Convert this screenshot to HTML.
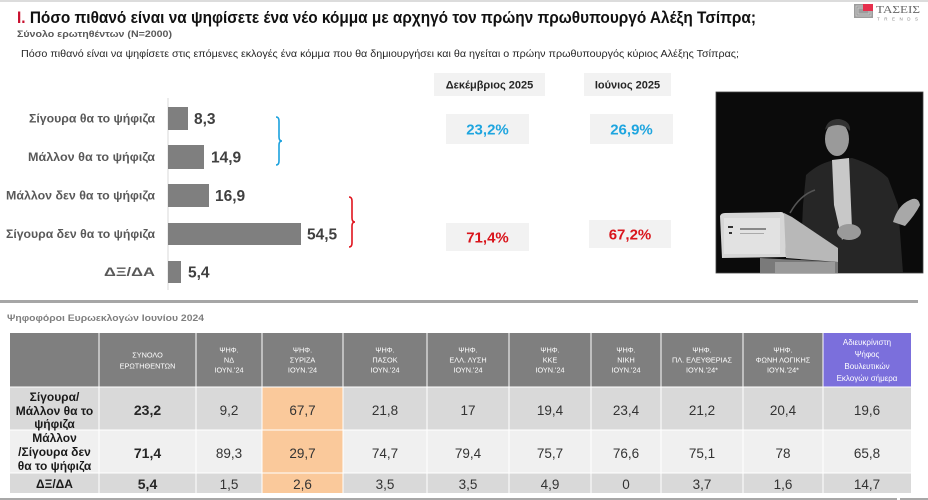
<!DOCTYPE html>
<html><head><meta charset="utf-8"><style>
html,body{margin:0;padding:0;background:#fff;}
svg{display:block;}
text{font-family:"Liberation Sans","Noto Sans CJK SC",sans-serif;}
</style></head><body>
<svg width="928" height="500" viewBox="0 0 928 500" xmlns="http://www.w3.org/2000/svg">
<rect x="0" y="0" width="928" height="500" fill="#fff"/>
<rect x="0" y="0" width="928" height="2" fill="#dcdcdc"/>

<!-- Title -->
<text x="17" y="23" font-size="16.5" font-weight="bold" fill="#111" textLength="739" lengthAdjust="spacingAndGlyphs"><tspan fill="#c8102e">I.</tspan> Πόσο πιθανό είναι να ψηφίσετε ένα νέο κόμμα με αρχηγό τον πρώην πρωθυπουργό Αλέξη Τσίπρα;</text>
<text x="17" y="37" font-size="9.5" font-weight="bold" fill="#595959" textLength="155" lengthAdjust="spacingAndGlyphs">Σύνολο ερωτηθέντων (N=2000)</text>
<text x="21" y="57" font-size="10" fill="#262626" textLength="718" lengthAdjust="spacingAndGlyphs">Πόσο πιθανό είναι να ψηφίσετε στις επόμενες εκλογές ένα κόμμα που θα δημιουργήσει και θα ηγείται ο πρώην πρωθυπουργός κύριος Αλέξης Τσίπρας;</text>

<!-- Logo -->
<rect x="854" y="4" width="19" height="14" fill="#9c9c9c"/>
<rect x="856" y="6" width="15" height="10" fill="none" stroke="#d0d0d0" stroke-width="0.8"/>
<rect x="858" y="8" width="11" height="6" fill="none" stroke="#d0d0d0" stroke-width="0.8"/>
<rect x="863" y="4" width="10" height="7" fill="#e6304d"/>
<text x="876" y="13" font-size="10" fill="#666" textLength="44" lengthAdjust="spacingAndGlyphs" style="font-family:'Liberation Serif',serif">ΤΑΣΕΙΣ</text>
<text x="877" y="20.5" font-size="4.5" fill="#888" textLength="41" lengthAdjust="spacing">TRENDS</text>

<!-- Bar chart -->
<line x1="168" y1="98" x2="168" y2="290" stroke="#d9d9d9" stroke-width="1"/>
<g font-size="12" font-weight="bold" fill="#595959" text-anchor="end">
<text x="155" y="122.5" textLength="126" lengthAdjust="spacingAndGlyphs">Σίγουρα θα το ψήφιζα</text>
<text x="155" y="161" textLength="127" lengthAdjust="spacingAndGlyphs">Μάλλον θα το ψήφιζα</text>
<text x="155" y="199.5" textLength="149" lengthAdjust="spacingAndGlyphs">Μάλλον δεν θα το ψήφιζα</text>
<text x="155" y="238" textLength="149" lengthAdjust="spacingAndGlyphs">Σίγουρα δεν θα το ψήφιζα</text>
<text x="155" y="276" textLength="51" lengthAdjust="spacingAndGlyphs">ΔΞ/ΔΑ</text>
</g>
<g fill="#7f7f7f">
<rect x="168" y="107" width="20" height="23"/>
<rect x="168" y="145" width="36" height="24"/>
<rect x="168" y="184" width="41" height="23"/>
<rect x="168" y="223" width="133" height="22"/>
<rect x="168" y="261" width="13" height="22"/>
</g>
<g font-size="15.5" font-weight="bold" fill="#404040">
<text x="194" y="124">8,3</text>
<text x="211" y="162.5">14,9</text>
<text x="215" y="201">16,9</text>
<text x="307" y="239.5">54,5</text>
<text x="188" y="277.5">5,4</text>
</g>
<!-- braces -->
<path d="M276,117 Q279,117 279,121 L279,137 Q279,141 282,141 Q279,141 279,145 L279,161 Q279,165 276,165" fill="none" stroke="#1ba1dd" stroke-width="1.6"/>
<path d="M349,197 Q352,197 352,201 L352,218 Q352,222 355,222 Q352,222 352,226 L352,243 Q352,247 349,247" fill="none" stroke="#e0141e" stroke-width="1.6"/>

<!-- comparison boxes -->
<rect x="434" y="73" width="111" height="23" fill="#f2f2f2"/>
<rect x="584" y="73" width="87" height="23" fill="#f2f2f2"/>
<g font-size="11" font-weight="bold" fill="#262626" text-anchor="middle">
<text x="489.5" y="88.5">Δεκέμβριος 2025</text>
<text x="627.5" y="88.5">Ιούνιος 2025</text>
</g>
<rect x="446" y="114" width="83" height="30" fill="#f2f2f2"/>
<rect x="590" y="114" width="83" height="30" fill="#f2f2f2"/>
<rect x="446" y="223" width="83" height="28" fill="#f2f2f2"/>
<rect x="589" y="220" width="82" height="28" fill="#f2f2f2"/>
<g font-size="15" font-weight="bold" text-anchor="middle">
<text x="487.5" y="134.5" fill="#1ea5df">23,2%</text>
<text x="631.5" y="134.5" fill="#1ea5df">26,9%</text>
<text x="487.5" y="242.5" fill="#d9141b">71,4%</text>
<text x="630" y="239.5" fill="#d9141b">67,2%</text>
</g>

<!-- photo -->
<rect x="716" y="92" width="207" height="181" fill="#0b0b0b" stroke="#444" stroke-width="0.8"/>
<!-- suit -->
<path d="M806,175 Q820,162 836,160 L852,158 Q875,165 888,178 L898,205 L903,273 L800,273 L803,205 Z" fill="#262626"/>
<!-- shirt -->
<path d="M832,160 L849,158 L852,228 L842,240 L834,205 Z" fill="#c8c8c8"/>
<!-- head -->
<ellipse cx="837" cy="139" rx="12" ry="17" fill="#9a9a9a"/>
<path d="M825,130 Q827,119 839,119 Q851,121 850,131 Q845,125 838,125 Q830,125 825,130 Z" fill="#333"/>
<!-- hands -->
<ellipse cx="849" cy="232" rx="12" ry="8" fill="#9a9a9a"/>
<path d="M893,222 Q898,205 910,200 Q918,196 920,205 Q915,215 905,226 Z" fill="#a8a8a8"/>
<!-- mic -->
<path d="M790,213 Q800,195 815,190" fill="none" stroke="#555" stroke-width="1.5"/>
<!-- podium -->
<path d="M720,216 Q721,213 725,213 L781,212 Q784,212 785,216 L786,257 L722,258 Z" fill="#d6d6d6"/>
<path d="M784,213 L792,217 L838,248 L838,262 L786,258 Z" fill="#b8b8b8"/>
<rect x="724" y="218" width="56" height="36" fill="#e2e2e2"/>
<rect x="728" y="226" width="5" height="2" fill="#333"/>
<rect x="729" y="232" width="3" height="2" fill="#333"/>
<rect x="740" y="228" width="26" height="2" fill="#888"/>
<rect x="740" y="233" width="24" height="1" fill="#aaa"/>
<path d="M760,258 L838,262 L838,273 L760,273 Z" fill="#7a7a7a"/>
<rect x="775" y="262" width="60" height="11" fill="#9a9a9a"/>

<!-- divider -->
<rect x="0" y="300" width="918" height="3" fill="#a6a6a6"/>
<text x="7" y="321" font-size="9.5" font-weight="bold" fill="#7f7f7f" textLength="197" lengthAdjust="spacingAndGlyphs">Ψηφοφόροι Ευρωεκλογών Ιουνίου 2024</text>

<!-- table -->
<rect x="10" y="333" width="813" height="54" fill="#7f7f7f"/>
<rect x="823" y="333" width="88" height="54" fill="#7b6fdc"/>
<rect x="10" y="387" width="901" height="43" fill="#d9d9d9"/>
<rect x="10" y="430" width="901" height="43" fill="#f0f0f0"/>
<rect x="10" y="473" width="901" height="20" fill="#d9d9d9"/>
<rect x="262" y="387" width="81" height="106" fill="#fac99b"/>
<!-- grid lines -->
<g stroke="#ffffff" stroke-width="1">
<line x1="99" y1="333" x2="99" y2="493"/>
<line x1="196" y1="333" x2="196" y2="493"/>
<line x1="262" y1="333" x2="262" y2="493"/>
<line x1="343" y1="333" x2="343" y2="493"/>
<line x1="427" y1="333" x2="427" y2="493"/>
<line x1="509" y1="333" x2="509" y2="493"/>
<line x1="591" y1="333" x2="591" y2="493"/>
<line x1="661" y1="333" x2="661" y2="493"/>
<line x1="743" y1="333" x2="743" y2="493"/>
<line x1="823" y1="333" x2="823" y2="493"/>
<line x1="10" y1="387" x2="911" y2="387"/>
<line x1="10" y1="430" x2="911" y2="430"/>
<line x1="10" y1="473" x2="911" y2="473"/>
</g>
<!-- headers -->
<g font-size="7.3" fill="#ffffff" text-anchor="middle">
<text x="147.5" y="357.5">ΣΥΝΟΛΟ</text>
<text x="147.5" y="368.5">ΕΡΩΤΗΘΕΝΤΩΝ</text>
<text x="229" y="352.5">ΨΗΦ.</text><text x="229" y="362.5">ΝΔ</text><text x="229" y="372.5">ΙΟΥΝ.'24</text>
<text x="302.5" y="352.5">ΨΗΦ.</text><text x="302.5" y="362.5">ΣΥΡΙΖΑ</text><text x="302.5" y="372.5">ΙΟΥΝ.'24</text>
<text x="385" y="352.5">ΨΗΦ.</text><text x="385" y="362.5">ΠΑΣΟΚ</text><text x="385" y="372.5">ΙΟΥΝ.'24</text>
<text x="468" y="352.5">ΨΗΦ.</text><text x="468" y="362.5">ΕΛΛ. ΛΥΣΗ</text><text x="468" y="372.5">ΙΟΥΝ.'24</text>
<text x="550" y="352.5">ΨΗΦ.</text><text x="550" y="362.5">ΚΚΕ</text><text x="550" y="372.5">ΙΟΥΝ.'24</text>
<text x="626" y="352.5">ΨΗΦ.</text><text x="626" y="362.5">ΝΙΚΗ</text><text x="626" y="372.5">ΙΟΥΝ.'24</text>
<text x="702" y="352.5">ΨΗΦ.</text><text x="702" y="362.5">ΠΛ. ΕΛΕΥΘΕΡΙΑΣ</text><text x="702" y="372.5">ΙΟΥΝ.'24*</text>
<text x="783" y="352.5">ΨΗΦ.</text><text x="783" y="362.5">ΦΩΝΗ ΛΟΓΙΚΗΣ</text><text x="783" y="372.5">ΙΟΥΝ.'24*</text>
</g>
<g font-size="8" fill="#ffffff" text-anchor="middle">
<text x="867" y="345">Αδιευκρίνιστη</text>
<text x="867" y="357">Ψήφος</text>
<text x="867" y="369">Βουλευτικών</text>
<text x="867" y="381">Εκλογών σήμερα</text>
</g>
<!-- row labels -->
<g font-size="12" font-weight="bold" fill="#1a1a1a" text-anchor="middle">
<text x="54.5" y="401">Σίγουρα/</text>
<text x="54.5" y="415">Μάλλον θα το</text>
<text x="54.5" y="428">ψήφιζα</text>
<text x="54.5" y="442">Μάλλον</text>
<text x="54.5" y="456">/Σίγουρα δεν</text>
<text x="54.5" y="470">θα το ψήφιζα</text>
<text x="54.5" y="488">ΔΞ/ΔΑ</text>
</g>
<!-- values -->
<g font-size="14" font-weight="bold" fill="#262626" text-anchor="middle">
<text x="147.5" y="415">23,2</text>
<text x="147.5" y="458">71,4</text>
<text x="147.5" y="489">5,4</text>
</g>
<g font-size="13.5" fill="#333" text-anchor="middle">
<text x="229" y="415">9,2</text><text x="302.5" y="415">67,7</text><text x="385" y="415">21,8</text><text x="468" y="415">17</text><text x="550" y="415">19,4</text><text x="626" y="415">23,4</text><text x="702" y="415">21,2</text><text x="783" y="415">20,4</text><text x="867" y="415">19,6</text>
<text x="229" y="458">89,3</text><text x="302.5" y="458">29,7</text><text x="385" y="458">74,7</text><text x="468" y="458">79,4</text><text x="550" y="458">75,7</text><text x="626" y="458">76,6</text><text x="702" y="458">75,1</text><text x="783" y="458">78</text><text x="867" y="458">65,8</text>
<text x="229" y="489">1,5</text><text x="302.5" y="489">2,6</text><text x="385" y="489">3,5</text><text x="468" y="489">3,5</text><text x="550" y="489">4,9</text><text x="626" y="489">0</text><text x="702" y="489">3,7</text><text x="783" y="489">1,6</text><text x="867" y="489">14,7</text>
</g>

<!-- bottom border -->
<rect x="0" y="498" width="897" height="2" fill="#a8a8a8"/>
<rect x="900" y="498" width="28" height="2" fill="#a8a8a8"/>
</svg>
</body></html>
